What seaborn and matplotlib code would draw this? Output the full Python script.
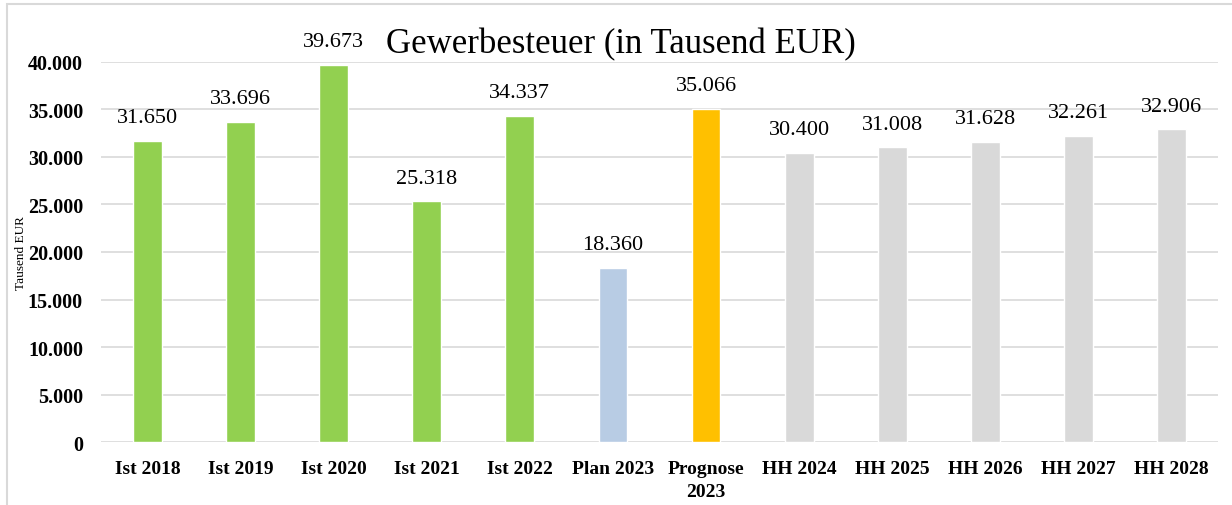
import pandas as pd
import matplotlib.pyplot as plt
import seaborn as sns
from matplotlib.patches import Rectangle

# Chart data
categories = ['Ist 2018', 'Ist 2019', 'Ist 2020', 'Ist 2021', 'Ist 2022', 'Plan 2023',
              'Prognose\n2023', 'HH 2024', 'HH 2025', 'HH 2026', 'HH 2027', 'HH 2028']
values = [31650, 33696, 39673, 25318, 34337, 18360, 35066, 30400, 31008, 31628, 32261, 32906]
bar_colors = ['#92D050'] * 5 + ['#B8CCE4', '#FFC000'] + ['#D9D9D9'] * 5
yticks = [0, 5000, 10000, 15000, 20000, 25000, 30000, 35000, 40000]

df = pd.DataFrame({'Kategorie': categories, 'Wert': values})

sns.set_style('white')
plt.rcParams['font.family'] = ['Liberation Serif', 'DejaVu Serif']
plt.rcParams['text.color'] = 'black'
plt.rcParams['xtick.color'] = 'black'
plt.rcParams['ytick.color'] = 'black'

fig = plt.figure(figsize=(12.32, 5.06), dpi=100)
ax = fig.add_axes([0.082, 0.1245, 0.9066, 0.751])

sns.barplot(data=df, x='Kategorie', y='Wert', hue='Kategorie', palette=bar_colors,
            saturation=1, width=0.31, legend=False, ax=ax, zorder=3)

ax.set_ylim(0, 40000)
ax.set_xlim(-0.5, 11.5)
ax.set_yticks(yticks)
ax.set_yticklabels(['0' if v == 0 else f'{v:,}'.replace(',', '.') for v in yticks],
                   fontsize=14.5, fontweight='bold')
ax.set_xticks(range(len(categories)))
ax.set_xticklabels(categories, fontsize=14, fontweight='bold', linespacing=1.45)
ax.tick_params(axis='y', length=0, pad=13)
ax.tick_params(axis='x', length=0, pad=13)
ax.grid(axis='y', color='#D9D9D9', linewidth=1.2, zorder=0)
ax.set_axisbelow(True)
for s in ax.spines.values():
    s.set_visible(False)

ax.set_xlabel('')
ax.set_ylabel('')
fig.text(21 / 1232, 0.5, 'Tausend EUR', rotation=90, ha='center', va='center', fontsize=9.5)

# value labels above bars
for i, v in enumerate(values):
    ax.annotate(f'{v:,}'.replace(',', '.'), (i, v), xytext=(0, 10), textcoords='offset points',
                ha='center', va='bottom', fontsize=16, clip_on=False)

fig.text(0.504, 0.911, 'Gewerbesteuer (in Tausend EUR)', ha='center', va='center', fontsize=25)

# light frame around the chart
fig.patches.append(Rectangle((7 / 1232, -0.05), 1.2, 1 - 5 / 506 + 0.05, transform=fig.transFigure,
                             fill=False, edgecolor='#D9D9D9', linewidth=1.5))

fig.savefig('out.png', dpi=100)
